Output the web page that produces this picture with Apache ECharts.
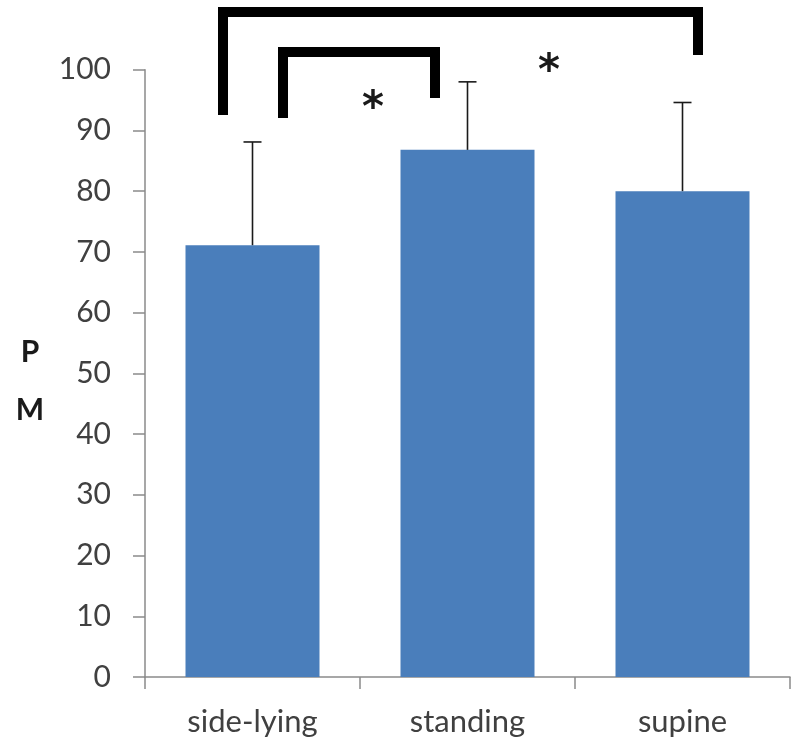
<!DOCTYPE html>
<html>
<head>
<meta charset="utf-8">
<script src="https://cdn.jsdelivr.net/npm/echarts@6/dist/echarts.min.js"></script>
<style>html,body{margin:0;padding:0;background:#fff}#c{width:794px;height:746px}</style>
</head>
<body>
<div id="c"></div>
<script>
var categories = ['side-lying', 'standing', 'supine'];
var means = [71.1, 86.8, 80.0];
var upperErr = [88.1, 98.0, 94.6];
var yTicks = [0, 10, 20, 30, 40, 50, 60, 70, 80, 90, 100];
var yAxisTitle = 'P\nM';

var chart = echarts.init(document.getElementById('c'), null, {renderer: 'canvas'});
var FONT = 'Lato';
chart.setOption({
  animation: false,
  grid: {left: 145, right: 4, top: 69.7, bottom: 69},
  xAxis: {
    type: 'category',
    data: categories,
    axisLine: {lineStyle: {color: '#8a8a8a', width: 1.5}},
    axisTick: {show: true, length: 12, lineStyle: {color: '#8a8a8a', width: 1.5}},
    axisLabel: {color: '#404040', fontFamily: FONT, fontSize: 31, margin: 29}
  },
  yAxis: {
    type: 'value',
    min: yTicks[0], max: yTicks[yTicks.length - 1], interval: 10,
    axisLine: {show: true, lineStyle: {color: '#8a8a8a', width: 1.5}},
    axisTick: {show: true, length: 12, inside: false, lineStyle: {color: '#8a8a8a', width: 1.5}},
    splitLine: {show: false},
    axisLabel: {color: '#404040', fontFamily: FONT, fontSize: 30, margin: 34}
  },
  series: [
    {
      type: 'bar',
      data: means,
      barWidth: 134,
      itemStyle: {color: '#4a7ebb'}
    },
    {
      type: 'custom',
      data: categories.map(function (c, i) { return [i, means[i], upperErr[i]]; }),
      renderItem: function (params, api) {
        var base = api.coord([api.value(0), api.value(1)]);
        var top = api.coord([api.value(0), api.value(2)]);
        var hw = 9;
        return {
          type: 'group',
          children: [
            {type: 'line', shape: {x1: base[0], y1: base[1], x2: top[0], y2: top[1]}, style: {stroke: '#1a1a1a', lineWidth: 1.6}},
            {type: 'line', shape: {x1: top[0] - hw, y1: top[1], x2: top[0] + hw, y2: top[1]}, style: {stroke: '#1a1a1a', lineWidth: 1.6}}
          ]
        };
      },
      z: 5
    }
  ],
  graphic: [
    {type: 'text', x: 30, y: 381, style: {text: yAxisTitle, font: 'bold 30px Lato', lineHeight: 58, fill: '#1a1a1a', align: 'center', verticalAlign: 'middle'}},
    {type: 'polyline', shape: {points: [[223, 115], [223, 12], [698, 12], [698, 55]]}, style: {stroke: '#000', fill: null, lineWidth: 10, lineJoin: 'miter', lineCap: 'butt'}},
    {type: 'polyline', shape: {points: [[283, 118], [283, 52], [435, 52], [435, 98]]}, style: {stroke: '#000', fill: null, lineWidth: 10, lineJoin: 'miter', lineCap: 'butt'}},
    {type: 'text', x: 373, y: 110, style: {text: '*', font: 'bold 42px "DejaVu Sans"', fill: '#1a1a1a', align: 'center', verticalAlign: 'middle'}},
    {type: 'text', x: 549, y: 73, style: {text: '*', font: 'bold 42px "DejaVu Sans"', fill: '#1a1a1a', align: 'center', verticalAlign: 'middle'}}
  ]
});
</script>
</body>
</html>
